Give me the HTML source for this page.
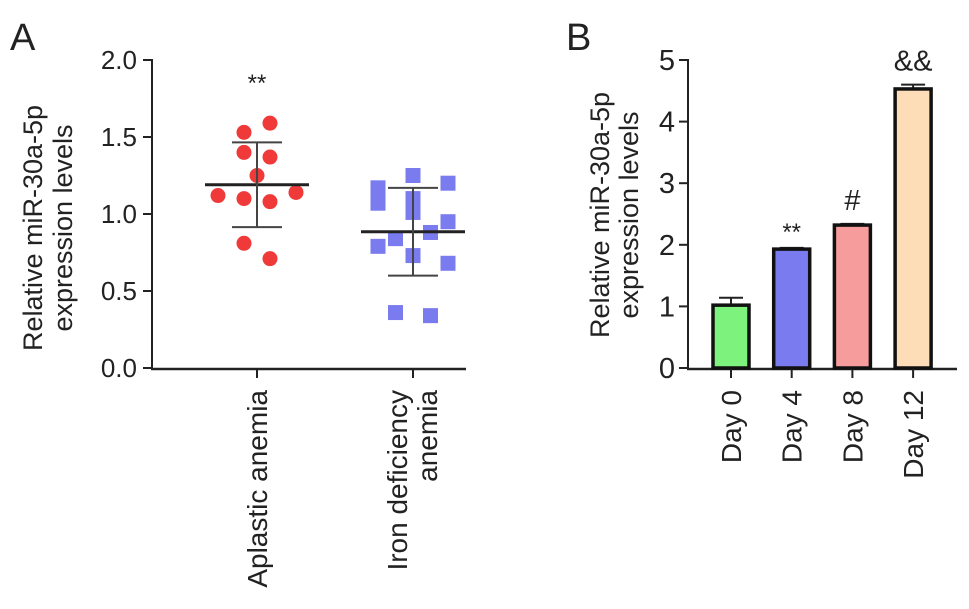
<!DOCTYPE html>
<html><head><meta charset="utf-8"><style>
html,body{margin:0;padding:0;background:#fff;}
svg{display:block;font-family:"Liberation Sans",Arial,sans-serif;}
</style></head><body>
<svg id="fig" width="969" height="609" viewBox="0 0 969 609" xmlns="http://www.w3.org/2000/svg">
<text x="10" y="50" font-size="38" fill="#222">A</text>
<text x="566" y="50" font-size="38" fill="#222">B</text>
<g id="pa"></g>
<g id="pb"></g>
</svg>
<script>
// Panel A data
const aTicks = [0, 0.5, 1.0, 1.5, 2.0];
const aTickLabels = ["0.0", "0.5", "1.0", "1.5", "2.0"];
const aplasticValues = [1.53, 1.59, 1.40, 1.37, 1.25, 1.12, 1.10, 1.08, 1.14, 0.81, 0.71];
const aplasticCols = [-1, 1, -1, 1, 0, -3, -1, 1, 3, -1, 1];
const aplasticMean = 1.19, aplasticSD = 0.275;
const ironValues = [1.25, 1.20, 1.14, 1.07, 1.10, 1.01, 0.95, 0.88, 0.84, 0.79, 0.73, 0.68, 0.36, 0.34, 1.17];
const ironCols = [0, 2, -2, -2, 0, 0, 2, 1, -1, -2, 0, 2, -1, 1, -2];
const ironMean = 0.885, ironSD = 0.285;
// Panel B data
const bCategories = ["Day 0", "Day 4", "Day 8", "Day 12"];
const bValues = [1.02, 1.93, 2.32, 4.53];
const bErrors = [0.12, 0.02, 0.02, 0.07];
const bMarks = ["", "**", "#", "&&"];
const bTicks = [0, 1, 2, 3, 4, 5];

const NS = "http://www.w3.org/2000/svg";
function mk(parent, tag, attrs, text) {
  const e = document.createElementNS(NS, tag);
  for (const k in attrs) e.setAttribute(k, attrs[k]);
  if (text !== undefined) e.textContent = text;
  parent.appendChild(e);
  return e;
}
const C = "#222";
const TF = 27, LF = 28;

// ---------- Panel A ----------
const pa = document.getElementById("pa");
const ayA = v => 368 - v * 154;
let e;
e = mk(pa, "line", {x1:152, y1:ayA(2)-1, x2:152, y2:369, stroke:C, "stroke-width":2});


e = mk(pa, "line", {x1:151, y1:369, x2:466, y2:369, stroke:C, "stroke-width":2.5});


aTicks.forEach((t, i) => {
  const y = ayA(t);
  mk(pa, "line", {x1:143, y1:y, x2:152, y2:y, stroke:C, "stroke-width":2});
  const tx = mk(pa, "text", {x:137, y:y+9, "font-size":26, "text-anchor":"end", fill:C}, aTickLabels[i]);
  
  
});
e = mk(pa, "text", {transform:"translate(42,228) rotate(-90)", "font-size":TF, "text-anchor":"middle", fill:C}, "Relative miR-30a-5p");


mk(pa, "text", {transform:"translate(72,228) rotate(-90)", "font-size":TF, "text-anchor":"middle", fill:C}, "expression levels");

const gA = [257, 413];
gA.forEach(x => mk(pa, "line", {x1:x, y1:369, x2:x, y2:378, stroke:C, "stroke-width":2}));
e = mk(pa, "text", {transform:"translate(267,390) rotate(-90)", "font-size":LF, "text-anchor":"end", fill:C}, "Aplastic anemia");


e = mk(pa, "text", {transform:"translate(407,390) rotate(-90)", "font-size":LF, "text-anchor":"end", fill:C}, "Iron deficiency");


mk(pa, "text", {transform:"translate(437,390) rotate(-90)", "font-size":LF, "text-anchor":"end", fill:C}, "anemia");

aplasticValues.forEach((v, i) => {
  const c = mk(pa, "circle", {cx: gA[0] + aplasticCols[i]*13, cy: ayA(v), r: 7.5, fill:"#f03a3a"});
  
  
});
ironValues.forEach((v, i) => {
  const r = mk(pa, "rect", {x: gA[1] + ironCols[i]*17.5 - 7.5, y: ayA(v) - 7.5, width:15, height:15, fill:"#7b7bf0"});
  
  
});
function meanSD(x, m, sd, name) {
  const g = mk(pa, "g", {});
  
  
  mk(g, "line", {x1:x-52, y1:ayA(m), x2:x+52, y2:ayA(m), stroke:C, "stroke-width":3});
  mk(g, "line", {x1:x, y1:ayA(m+sd), x2:x, y2:ayA(m-sd), stroke:"#444", "stroke-width":2});
  mk(g, "line", {x1:x-25, y1:ayA(m+sd), x2:x+25, y2:ayA(m+sd), stroke:"#444", "stroke-width":2});
  mk(g, "line", {x1:x-25, y1:ayA(m-sd), x2:x+25, y2:ayA(m-sd), stroke:"#444", "stroke-width":2});
}
meanSD(gA[0], aplasticMean, aplasticSD, "aplastic-mean-sd");
meanSD(gA[1], ironMean, ironSD, "iron-mean-sd");
e = mk(pa, "text", {x:gA[0], y:ayA(1.8), "font-size":24, "text-anchor":"middle", fill:C}, "**");



// ---------- Panel B ----------
const pb = document.getElementById("pb");
const ayB = v => 368 - v * 61.6;
const xB = i => 731 + i * 60.7;
e = mk(pb, "line", {x1:688, y1:ayB(5)-1, x2:688, y2:369, stroke:C, "stroke-width":2});


e = mk(pb, "line", {x1:687, y1:369, x2:957, y2:369, stroke:C, "stroke-width":2.5});


bTicks.forEach(t => {
  const y = ayB(t);
  mk(pb, "line", {x1:679, y1:y, x2:688, y2:y, stroke:C, "stroke-width":2});
  const tx = mk(pb, "text", {x:675, y:y+10, "font-size":29, "text-anchor":"end", fill:C}, String(t));
  
  
});
e = mk(pb, "text", {transform:"translate(609,215) rotate(-90)", "font-size":TF, "text-anchor":"middle", fill:C}, "Relative miR-30a-5p");


mk(pb, "text", {transform:"translate(638,215) rotate(-90)", "font-size":TF, "text-anchor":"middle", fill:C}, "expression levels");
const fills = ["#7df27d", "#7b7bf0", "#f79c9c", "#fddcb8"];
bCategories.forEach((c, i) => {
  const x = xB(i), w = 36;
  const ye = ayB(bValues[i] + bErrors[i]);
  mk(pb, "line", {x1:x, y1:ye, x2:x, y2:ayB(bValues[i]), stroke:C, "stroke-width":2});
  mk(pb, "line", {x1:x-12, y1:ye, x2:x+12, y2:ye, stroke:C, "stroke-width":2});
  const r = mk(pb, "rect", {x:x-w/2, y:ayB(bValues[i]), width:w, height:ayB(0)-ayB(bValues[i]), fill:fills[i], stroke:"#111", "stroke-width":3.5});
  
  
  mk(pb, "line", {x1:x, y1:369, x2:x, y2:378, stroke:C, "stroke-width":2});
  const t = mk(pb, "text", {transform:`translate(${x+10},390) rotate(-90)`, "font-size":LF, "text-anchor":"end", fill:C}, c);
  
  
  if (bMarks[i]) {
    const m = mk(pb, "text", {x:x, y:ayB(bValues[i]+bErrors[i]) - (bMarks[i]==="**" ? 8 : 14), "font-size": bMarks[i]==="**" ? 24 : 29, "text-anchor":"middle", fill:C}, bMarks[i]);
    
    
  }
});
</script>
</body></html>
